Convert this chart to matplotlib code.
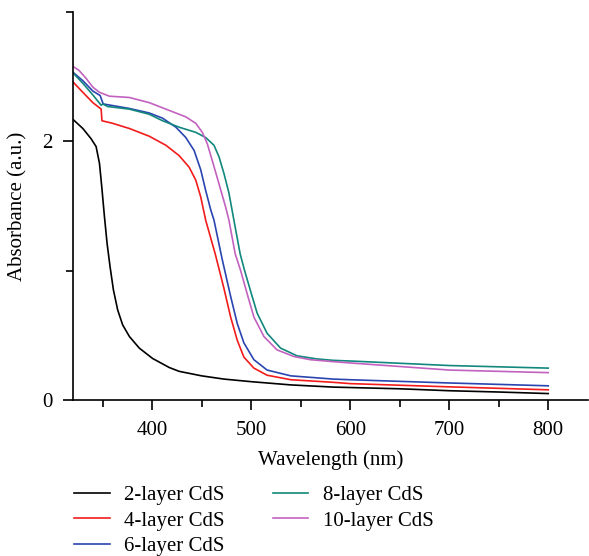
import numpy as np
import matplotlib
matplotlib.use("Agg")
import matplotlib.pyplot as plt
from matplotlib.ticker import MultipleLocator

plt.rcParams['font.family'] = ['Liberation Serif', 'DejaVu Serif']

# wavelength (nm) / absorbance
wl_2 = [320, 329.9, 338.3, 343.3, 346.7, 349, 351.7, 354.4, 357.4, 360.8, 365.1, 370.1, 376.9, 386.9,
        400.3, 417.1, 427.2, 450, 472.5, 500, 540, 583, 650, 700, 750, 800]
ab_2 = [2.17, 2.10, 2.02, 1.96, 1.83, 1.65, 1.42, 1.21, 1.03, 0.85, 0.695, 0.58, 0.49, 0.40,
        0.32, 0.25, 0.22, 0.185, 0.16, 0.14, 0.115, 0.098, 0.085, 0.07, 0.06, 0.048]

wl_4 = [320, 329.9, 340, 348.4, 349.2, 360, 376.9, 397, 413.8, 427.2, 437.3, 444, 449, 454, 463.6,
        472.5, 479.2, 485.9, 492.6, 502.7, 516, 540, 583, 600, 700, 800]
ab_4 = [2.46, 2.38, 2.30, 2.25, 2.16, 2.14, 2.10, 2.04, 1.97, 1.89, 1.80, 1.70, 1.57, 1.39, 1.13,
        0.86, 0.64, 0.46, 0.33, 0.245, 0.19, 0.155, 0.135, 0.125, 0.10, 0.077]

wl_6 = [320, 329.9, 340, 347.4, 349, 350.5, 376.9, 397, 410.4, 423.9, 433.9, 442.3, 449, 454, 459.1,
        462.4, 470.3, 479.2, 485.9, 492.6, 502.7, 516, 540, 583, 600, 700, 800]
ab_6 = [2.535, 2.47, 2.39, 2.355, 2.32, 2.29, 2.255, 2.22, 2.18, 2.11, 2.03, 1.93, 1.78, 1.62, 1.47,
        1.39, 1.10, 0.80, 0.59, 0.44, 0.31, 0.23, 0.185, 0.16, 0.155, 0.13, 0.108]

wl_8 = [320, 329.9, 340, 348.4, 350, 355, 376.9, 397, 410.4, 427.2, 444, 454, 462.4, 467.5, 472.5,
        477.5, 482.5, 488.8, 493.3, 499.4, 506, 516, 529.6, 546.3, 566.4, 583, 600, 700, 800]
ab_8 = [2.53, 2.45, 2.36, 2.28, 2.29, 2.27, 2.25, 2.21, 2.16, 2.11, 2.07, 2.03, 1.97, 1.88, 1.75,
        1.60, 1.39, 1.13, 1.0, 0.84, 0.67, 0.515, 0.40, 0.34, 0.316, 0.305, 0.30, 0.265, 0.245]

wl_10 = [320, 326, 333, 340, 346.7, 356.7, 376.9, 397, 417.1, 433.9, 444, 450.6, 455.7, 460.7, 467.5,
         474.2, 477.5, 483.8, 489.3, 495.9, 502.7, 512.8, 526.1, 543, 559.8, 583, 600, 700, 800]
ab_10 = [2.58, 2.55, 2.49, 2.42, 2.38, 2.35, 2.34, 2.30, 2.24, 2.19, 2.14, 2.07, 1.98, 1.85, 1.67,
         1.49, 1.39, 1.13, 1.0, 0.82, 0.64, 0.49, 0.386, 0.335, 0.31, 0.295, 0.285, 0.23, 0.21]

labels = ['2-layer CdS', '4-layer CdS', '6-layer CdS', '8-layer CdS', '10-layer CdS']
colors = ['#000000', '#f21c1c', '#2a45b0', '#12877d', '#c262c0']
series = [(wl_2, ab_2), (wl_4, ab_4), (wl_6, ab_6), (wl_8, ab_8), (wl_10, ab_10)]

fig = plt.figure(figsize=(5.89, 5.56), dpi=100)
ax = fig.add_axes([0.124, 0.281, 0.874, 0.697])

for (x, y), c, lab in zip(series, colors, labels):
    ax.plot(x, y, color=c, lw=1.2, label=lab)

ax.set_xlim(320, 840)
ax.set_ylim(0, 3)
ax.xaxis.set_major_locator(MultipleLocator(100))
ax.xaxis.set_minor_locator(MultipleLocator(50))
ax.yaxis.set_major_locator(MultipleLocator(2))
ax.yaxis.set_minor_locator(MultipleLocator(1))
ax.spines['top'].set_visible(False)
ax.spines['right'].set_visible(False)
for s in ['left', 'bottom']:
    ax.spines[s].set_linewidth(1.2)
ax.tick_params(which='major', length=7, width=1.2, labelsize=15, pad=8)
ax.tick_params(which='minor', length=5, width=1.2)

ax.set_xlabel('Wavelength (nm)', fontsize=15, labelpad=8)
ax.set_ylabel('Absorbance (a.u.)', fontsize=15, labelpad=10)

ax.legend(loc='upper left', bbox_to_anchor=(-0.014, -0.200), ncol=2, frameon=False,
          fontsize=15, handlelength=1.7, handletextpad=0.7, columnspacing=2.3,
          labelspacing=0.28, borderaxespad=0)

fig.savefig('out.png', dpi=100)
